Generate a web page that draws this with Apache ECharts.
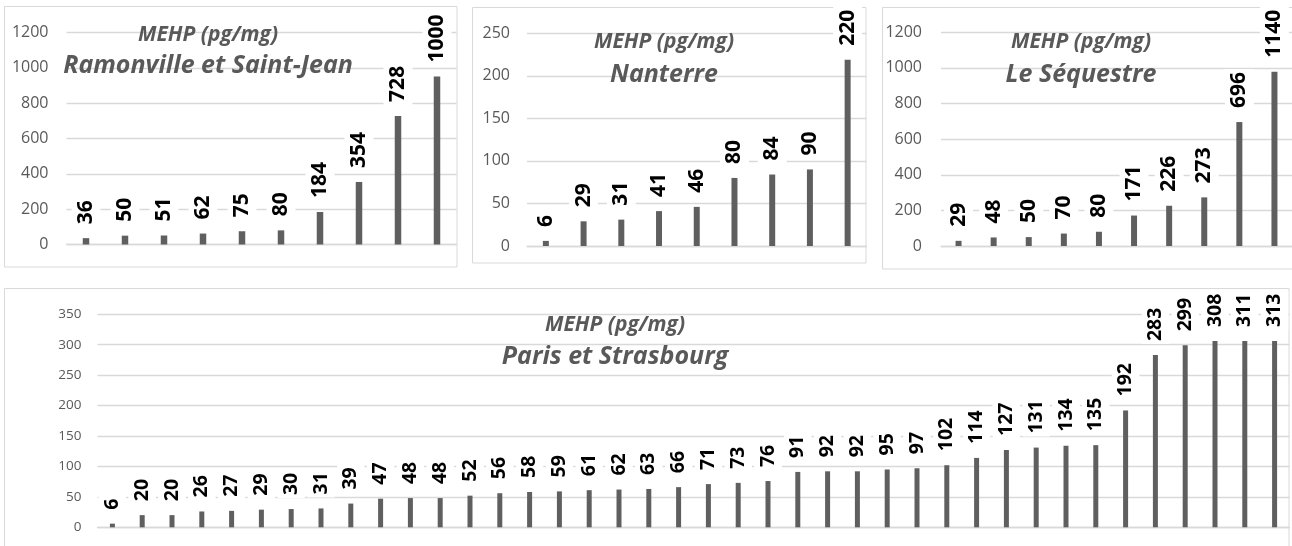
<!DOCTYPE html>
<html>
<head>
<meta charset="utf-8">
<script src="https://cdn.jsdelivr.net/npm/echarts@6/dist/echarts.min.js"></script>
<style>
html,body{margin:0;padding:0;background:#fff;}
#chart{width:1292px;height:546px;}
</style>
</head>
<body>
<div id="chart"></div>
<script>
// ---- Data ----
const titleMeasure = 'MEHP (pg/mg)';

const ramonvilleName = 'Ramonville et Saint-Jean';
const ramonvilleLabels = [36, 50, 51, 62, 75, 80, 184, 354, 728, 1000];
const ramonvilleBarHeights = [36, 50, 51, 62, 75, 80, 184, 354, 728, 951];
const ramonvilleTicks = [0, 200, 400, 600, 800, 1000, 1200];

const nanterreName = 'Nanterre';
const nanterreLabels = [6, 29, 31, 41, 46, 80, 84, 90, 220];
const nanterreBarHeights = [6, 29, 31, 41, 46, 80, 84, 90, 219];
const nanterreTicks = [0, 50, 100, 150, 200, 250];

const sequestreName = 'Le Séquestre';
const sequestreLabels = [29, 48, 50, 70, 80, 171, 226, 273, 696, 1140];
const sequestreBarHeights = [29, 48, 50, 70, 80, 171, 226, 273, 696, 979];
const sequestreTicks = [0, 200, 400, 600, 800, 1000, 1200];

const parisName = 'Paris et Strasbourg';
const parisLabels = [6, 20, 20, 26, 27, 29, 30, 31, 39, 47, 48, 48, 52, 56, 58, 59, 61, 62, 63, 66,
                     71, 73, 76, 91, 92, 92, 95, 97, 102, 114, 127, 131, 134, 135, 192, 283, 299, 308, 311, 313];
const parisBarHeights = [6, 20, 20, 26, 27, 29, 30, 31, 39, 47, 48, 48, 52, 56, 58, 59, 61, 62, 63, 66,
                     71, 73, 76, 91, 92, 92, 95, 97, 102, 114, 127, 131, 134, 135, 192, 283, 299, 306, 306, 306];
const parisTicks = [0, 50, 100, 150, 200, 250, 300, 350];

// ---- Layout / style ----
const GRAY = '#595959';
const GRID = '#d9d9d9';
const BAR = '#5f5f5f';
const FONT = '"Open Sans", "DejaVu Sans", sans-serif';

const panels = [
  { name: ramonvilleName, labels: ramonvilleLabels, heights: ramonvilleBarHeights, ticks: ramonvilleTicks,
    grid: { left: 66.5, right: 835.5, top: 32.5, bottom: 301.5 }, barWidth: 6.5, labelSize: 21, axisSize: 16, margin: 18,
    box: [4.5, 6.5, 452.5, 260.5], titleX: 208, measureY: 35, nameY: 66, measureSize: 21, nameSize: 25 },
  { name: nanterreName, labels: nanterreLabels, heights: nanterreBarHeights, ticks: nanterreTicks,
    grid: { left: 527, right: 425.5, top: 33.3, bottom: 300 }, barWidth: 6, labelSize: 21, axisSize: 16, margin: 17,
    box: [472.5, 7.5, 393.5, 255.5], titleX: 664, measureY: 42, nameY: 75, measureSize: 21, nameSize: 25 },
  { name: sequestreName, labels: sequestreLabels, heights: sequestreBarHeights, ticks: sequestreTicks,
    grid: { left: 941, right: 0, top: 32.3, bottom: 300 }, barWidth: 6, labelSize: 21, axisSize: 16, margin: 19,
    box: [882.5, 7.5, 420, 261.5], titleX: 1081, measureY: 42, nameY: 75, measureSize: 21, nameSize: 25 },
  { name: parisName, labels: parisLabels, heights: parisBarHeights, ticks: parisTicks,
    grid: { left: 97.5, right: 2.5, top: 314.3, bottom: 18.7 }, barWidth: 5, labelSize: 19.5, axisSize: 13.5, margin: 16,
    box: [4.5, 288.5, 1284.5, 280], titleX: 615, measureY: 325, nameY: 357, measureSize: 21, nameSize: 25 }
];

const grids = [], xAxes = [], yAxes = [], series = [], graphics = [];

panels.forEach((p, i) => {
  grids.push(Object.assign({ containLabel: false }, p.grid));
  xAxes.push({
    type: 'category', gridIndex: i,
    data: p.labels.map((v, k) => String(k + 1)),
    axisLine: { show: true, lineStyle: { color: GRID, width: 1.3 } },
    axisTick: { show: false }, axisLabel: { show: false }, splitLine: { show: false }
  });
  const tickStep = p.ticks[1] - p.ticks[0];
  yAxes.push({
    type: 'value', gridIndex: i,
    min: p.ticks[0], max: p.ticks[p.ticks.length - 1], interval: tickStep,
    axisLine: { show: false }, axisTick: { show: false },
    axisLabel: { color: GRAY, fontFamily: FONT, fontSize: p.axisSize, margin: p.margin,
                 formatter: (v) => String(v) },
    splitLine: { lineStyle: { color: GRID, width: 1.3 } }
  });
  series.push({
    type: 'bar', xAxisIndex: i, yAxisIndex: i,
    barWidth: p.barWidth,
    itemStyle: { color: BAR },
    data: p.heights.map((h) => h),
    label: {
      show: true, position: 'top', rotate: 90, align: 'left', verticalAlign: 'middle',
      distance: 11,
      formatter: (params) => String(p.labels[params.dataIndex]),
      color: '#000', fontFamily: FONT, fontWeight: 'bold', fontSize: p.labelSize,
      lineHeight: p.labelSize,
      backgroundColor: '#fff', padding: [4, 3, 4, 3]
    },
    z: 2
  });
  graphics.push({
    type: 'rect', shape: { x: p.box[0], y: p.box[1], width: p.box[2], height: p.box[3] },
    style: { fill: null, stroke: GRID, lineWidth: 1 }, z: 0, silent: true
  });
  graphics.push({
    type: 'text', x: p.titleX, y: p.measureY, z: 10,
    style: { text: titleMeasure, fill: GRAY, font: 'italic bold ' + p.measureSize + 'px ' + FONT,
             textAlign: 'center', textVerticalAlign: 'middle' }
  });
  graphics.push({
    type: 'text', x: p.titleX, y: p.nameY, z: 10,
    style: { text: p.name, fill: GRAY, font: 'italic bold ' + p.nameSize + 'px ' + FONT,
             textAlign: 'center', textVerticalAlign: 'middle' }
  });
});

const chart = echarts.init(document.getElementById('chart'), null, { renderer: 'canvas' });
chart.setOption({
  backgroundColor: '#fff',
  animation: false,
  grid: grids, xAxis: xAxes, yAxis: yAxes, series: series,
  graphic: graphics
});
</script>
</body>
</html>
